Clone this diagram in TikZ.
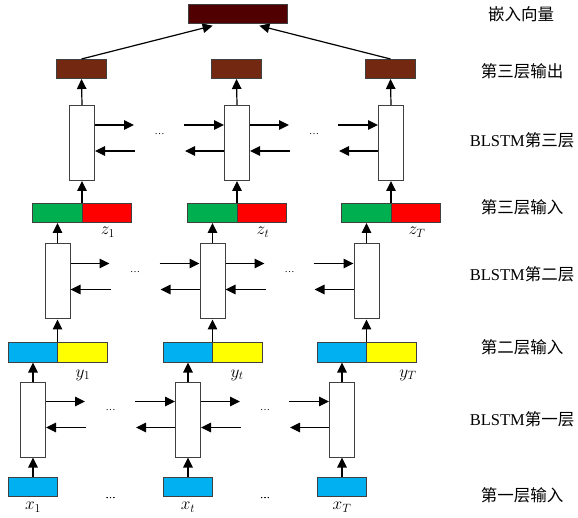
\documentclass[tikz,border=0pt]{standalone}
\usepackage{fontspec}
\setmainfont{Liberation Serif}
\newfontfamily\cjk{Noto Sans CJK SC}
\usetikzlibrary{arrows.meta,positioning,calc}
\definecolor{embcol}{RGB}{80,0,0}
\definecolor{outcol}{RGB}{114,40,17}
\definecolor{grn}{RGB}{0,176,80}
\definecolor{rd}{RGB}{255,0,0}
\definecolor{blu}{RGB}{0,176,240}
\definecolor{ylw}{RGB}{255,255,0}
\tikzstyle{cell}=[draw=black!75,fill=white,line width=1pt,minimum width=25pt,minimum height=75pt,inner sep=0pt]
\tikzstyle{vec}=[draw=black!75,line width=1pt,minimum width=49.5pt,minimum height=19pt,inner sep=0pt]
\tikzstyle{arr}=[-{Triangle[length=10pt,width=9.5pt]},line width=1.2pt]
\tikzstyle{lab}=[font=\fontsize{16.5}{18}\selectfont]
\tikzstyle{sub}=[font=\fontsize{17}{19}\selectfont,inner sep=0pt]
\tikzstyle{dots}=[font=\fontsize{10}{11}\selectfont,inner sep=0pt]

\begin{document}
\begin{tikzpicture}[x=1pt,y=-1pt]
\useasboundingbox (0,0) rectangle (578,518);
\node[vec,fill=embcol,minimum width=99pt] (emb) at (237.5,14.5) {};
% one column per time step
\foreach \c/\bx/\s/\yx in {1/33/1/50, 2/188/t/49, 3/342/T/66}{
  \node[vec,fill=blu] (in1-\c) at (\bx,486.5) {};
  \node[cell] (l1-\c) at (\bx,419.5) {};
  \node[vec,fill=blu] (in2a-\c) at (\bx,352.5) {};
  \node[vec,fill=ylw] (in2b-\c) at (\bx+49.5,352.5) {};
  \node[cell] (l2-\c) at (\bx+24.5,281.5) {};
  \node[vec,fill=grn] (in3a-\c) at (\bx+24.5,213) {};
  \node[vec,fill=rd] (in3b-\c) at (\bx+74,213) {};
  \node[cell] (l3-\c) at (\bx+49,143) {};
  \node[vec,fill=outcol] (out-\c) at (\bx+48.5,69) {};
  \node[sub] (x-\c) at (\bx,507) {$x_{\s}$};
  \node[sub] (y-\c) at (\bx+\yx,375) {$y_{\s}$};
  \node[sub] (z-\c) at (\bx+75,232) {$z_{\s}$};
  \draw[arr] (in1-\c.north) -- (l1-\c.south);
  \draw[arr] (l1-\c.north) -- (in2a-\c.south);
  \draw[arr] (l2-\c.south |- in2a-\c.north) -- (l2-\c.south);
  \draw[arr] (l2-\c.north) -- (in3a-\c.south);
  \draw[arr] (l3-\c.south |- in3a-\c.north) -- (l3-\c.south);
  \draw[arr] (l3-\c.north) -- (out-\c.south);
}
% forward / backward links
\foreach \L in {1,2,3}
  \foreach \c/\n in {1/2,2/3}{
    \coordinate (fo-\L-\c) at ([shift={(39pt,-20pt)}]l\L-\c.north east);
    \coordinate (bi-\L-\c) at ([shift={(40pt,-46pt)}]l\L-\c.north east);
    \coordinate (fi-\L-\n) at ([shift={(-40pt,-20pt)}]l\L-\n.north west);
    \coordinate (bo-\L-\n) at ([shift={(-39pt,-46pt)}]l\L-\n.north west);
    \draw[arr] (l\L-\c.east |- fo-\L-\c) -- (fo-\L-\c);
    \draw[arr] (bi-\L-\c) -- (l\L-\c.east |- bi-\L-\c);
    \draw[arr] (fi-\L-\n) -- (l\L-\n.west |- fi-\L-\n);
    \draw[arr] (l\L-\n.west |- bo-\L-\n) -- (bo-\L-\n);
    \node[dots] (dt-\L-\c) at ($(l\L-\c.north east)!0.5!(l\L-\n.north west)+(0,-29pt)$) {\ldots};
    \node[dots] (dt0-\c) at ($(in1-\c.south east)!0.5!(in1-\n.south west)+(0,-2pt)$) {\ldots};
  }
\draw[arr,shorten >=5pt] (out-1.north) -- ([xshift=30pt]emb.south west);
\draw[arr,shorten >=5pt] (out-3.north) -- ([xshift=-33pt]emb.south east);
% layer names
\node[lab] (t-emb) at (521,14) {\cjk 嵌入向量};
\node[lab] (t-out3) at (522,71) {\cjk 第三层输出};
\node[lab] (t-l3) at (522,140) {BLSTM{\cjk 第三层}};
\node[lab] (t-in3) at (522,207) {\cjk 第三层输入};
\node[lab] (t-l2) at (522,274) {BLSTM{\cjk 第二层}};
\node[lab] (t-in2) at (522,347) {\cjk 第二层输入};
\node[lab] (t-l1) at (522,419) {BLSTM{\cjk 第一层}};
\node[lab] (t-in1) at (522,495) {\cjk 第一层输入};
\end{tikzpicture}
\end{document}
